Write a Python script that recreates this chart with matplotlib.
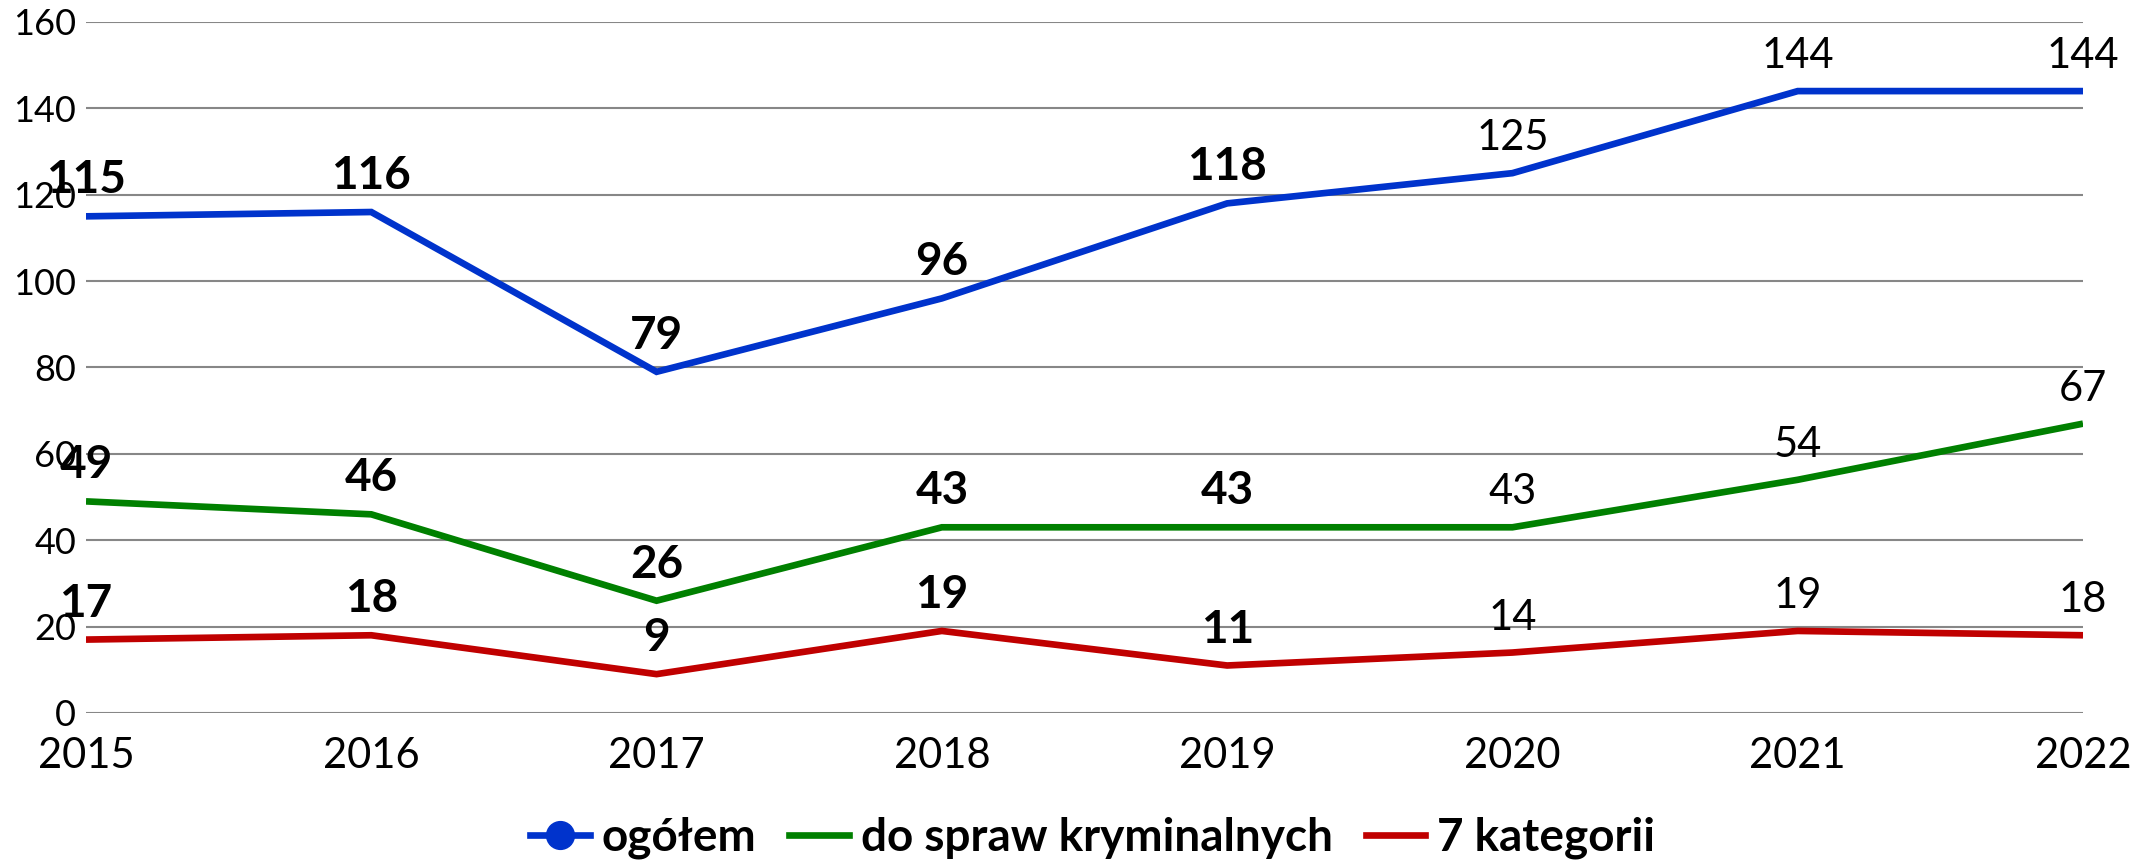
import matplotlib
matplotlib.use("Agg")
import matplotlib.pyplot as plt
from matplotlib.lines import Line2D

plt.rcParams['font.family'] = ['Lato', 'DejaVu Sans']

years = [2015, 2016, 2017, 2018, 2019, 2020, 2021, 2022]
ogolem = [115, 116, 79, 96, 118, 125, 144, 144]
kryminalne = [49, 46, 26, 43, 43, 43, 54, 67]
kategorie7 = [17, 18, 9, 19, 11, 14, 19, 18]
series_names = ['ogółem', 'do spraw kryminalnych', '7 kategorii']
y_ticks = [0, 20, 40, 60, 80, 100, 120, 140, 160]

colors = ['#0033CC', '#008000', '#C00000']

fig = plt.figure(figsize=(21.51, 8.64), dpi=100)
ax = fig.add_axes([0.03998, 0.17477, 0.92841, 0.79977])

for vals, color, cap in zip([ogolem, kryminalne, kategorie7], colors, ['round', 'butt', 'butt']):
    ax.plot(years, vals, color=color, lw=4.8, solid_capstyle=cap, solid_joinstyle='miter', zorder=3)
    for yr, v in zip(years, vals):
        bold = yr < 2020
        ax.annotate(str(v), (yr, v), xytext=(0, 16.5), textcoords='offset points',
                    ha='center', va='baseline',
                    fontsize=33 if bold else 30,
                    fontweight='bold' if bold else 'normal',
                    color='black', zorder=4)

ax.set_xlim(years[0], years[-1])
ax.set_ylim(y_ticks[0], y_ticks[-1])
ax.set_yticks(y_ticks)
ax.set_xticks(years)
ax.set_xticklabels([str(y) for y in years])
ax.grid(axis='y', color='#878787', lw=1.5, zorder=1)
ax.set_axisbelow(True)
for s in ax.spines.values():
    s.set_visible(False)
ax.tick_params(axis='y', length=0, pad=7, labelsize=26)
ax.tick_params(axis='x', length=0, pad=17, labelsize=30)

handles = [
    Line2D([], [], color=colors[0], lw=4.8, marker='o', markersize=20),
    Line2D([], [], color=colors[1], lw=4.8),
    Line2D([], [], color=colors[2], lw=4.8),
]
fig.legend(handles, series_names, loc='center', bbox_to_anchor=(0.508, 0.030),
           ncol=3, frameon=False, handlelength=1.3, handletextpad=0.26,
           columnspacing=0.72, prop={'size': 33, 'weight': 'bold'})

fig.savefig('out.png', dpi=100)
